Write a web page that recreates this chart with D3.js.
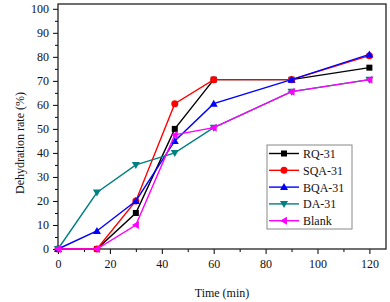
<!DOCTYPE html>
<html lang="en">
  <head>
    <meta charset="utf-8" />
    <title>Dehydration rate</title>
    <script src="https://d3js.org/d3.v7.min.js"></script>
    <style>
      body { margin: 0; background: #fff; }
      svg text { font-family: "Liberation Serif", "Times New Roman", serif; fill: #111; }
    </style>
  </head>
  <body>
    <div id="chart"></div>
    <script>
      const times = [0, 15, 30, 45, 60, 90, 120];
      const seriesNames = ["RQ-31", "SQA-31", "BQA-31", "DA-31", "Blank"];
      const rq31 = [0, 0, 15, 50, 70.5, 70.5, 75.5];
      const sqa31 = [0, 0, 20, 60.5, 70.5, 70.5, 80.5];
      const bqa31 = [0, 7.5, 20, 45, 60.5, 70.5, 81];
      const da31 = [0, 23.5, 35, 40, 50.5, 65.5, 70.5];
      const blank = [0, 0, 10, 47.5, 50.5, 65.5, 70.5];
      const xTicks = [0, 20, 40, 60, 80, 100, 120];
      const yTicks = [0, 10, 20, 30, 40, 50, 60, 70, 80, 90, 100];

      const colors = ["#000000", "#ff0000", "#0000ff", "#008080", "#ff00ff"];
      const shapes = ["square", "circle", "up", "down", "left"];
      const values = [rq31, sqa31, bqa31, da31, blank];

      const W = 390, H = 302;
      const margin = { top: 4, right: 4, bottom: 53, left: 58 };
      const width = W - margin.left - margin.right;
      const height = H - margin.top - margin.bottom;

      const svg = d3.select("#chart").append("svg")
        .attr("width", W).attr("height", H);
      const g = svg.append("g")
        .attr("transform", `translate(${margin.left},${margin.top})`);

      const x = d3.scaleLinear().domain([0, 126.4]).range([0, width]);
      const y = d3.scaleLinear().domain([0, 102]).range([height, 0]);

      // minor ticks
      g.append("g").attr("transform", `translate(0,${height})`)
        .call(d3.axisBottom(x).tickValues(d3.range(10, 130, 20)).tickSize(3).tickFormat(""))
        .call(a => a.select(".domain").remove());
      g.append("g")
        .call(d3.axisLeft(y).tickValues(d3.range(5, 100, 10)).tickSize(3).tickFormat(""))
        .call(a => a.select(".domain").remove());

      const xAxis = g.append("g").attr("transform", `translate(0,${height})`)
        .call(d3.axisBottom(x).tickValues(xTicks).tickSize(5).tickPadding(5));
      xAxis.select(".domain").remove();

      const yAxis = g.append("g")
        .call(d3.axisLeft(y).tickValues(yTicks).tickSize(5).tickPadding(4));
      yAxis.select(".domain").remove();

      g.selectAll("g").attr("font-family", null).attr("font-size", null);
      g.selectAll(".tick text").style("font-size", "12px");
      g.selectAll(".tick line").attr("stroke", "#000").attr("stroke-width", 1);

      // frame
      g.append("rect").attr("width", width).attr("height", height)
        .attr("fill", "none").attr("stroke", "#222").attr("stroke-width", 1.3);

      function marker(sel, shape, color, size) {
        const s = size;
        if (shape === "square") {
          sel.append("rect").attr("x", -s / 2).attr("y", -s / 2)
            .attr("width", s).attr("height", s).attr("fill", color);
        } else if (shape === "circle") {
          sel.append("circle").attr("r", s / 2 + 0.5).attr("fill", color);
        } else {
          const r = s / 2 + 1;
          let pts;
          if (shape === "up") pts = [[0, -r], [r, r * 0.75], [-r, r * 0.75]];
          else if (shape === "down") pts = [[0, r], [r, -r * 0.75], [-r, -r * 0.75]];
          else pts = [[-r, 0], [r * 0.75, -r], [r * 0.75, r]];
          sel.append("path").attr("d", "M" + pts.join("L") + "Z").attr("fill", color);
        }
      }

      const line = d3.line().x((d, i) => x(times[i])).y(d => y(d));

      values.forEach((vals, k) => {
        g.append("path").datum(vals)
          .attr("fill", "none").attr("stroke", colors[k]).attr("stroke-width", 1.4)
          .attr("d", line);
        vals.forEach((v, i) => {
          const m = g.append("g").attr("transform", `translate(${x(times[i])},${y(v)})`);
          marker(m, shapes[k], colors[k], 6);
        });
      });

      // legend
      const legend = svg.append("g").attr("transform", "translate(267,145)");
      legend.append("rect").attr("width", 85).attr("height", 84)
        .attr("fill", "#fff").attr("stroke", "#888").attr("stroke-width", 1);
      seriesNames.forEach((name, k) => {
        const yy = 8.5 + k * 16.8;
        const row = legend.append("g").attr("transform", `translate(0,${yy})`);
        row.append("line").attr("x1", 2).attr("x2", 32).attr("stroke", colors[k]).attr("stroke-width", 1.4);
        marker(row.append("g").attr("transform", "translate(17,0)"), shapes[k], colors[k], 6);
        row.append("text").attr("x", 36).attr("y", 4.5).style("font-size", "12px").text(name);
      });

      // axis titles
      svg.append("text").attr("x", margin.left + width / 2).attr("y", 297)
        .attr("text-anchor", "middle").style("font-size", "12px").text("Time (min)");
      svg.append("text")
        .attr("transform", `translate(24,143) rotate(-90)`)
        .attr("text-anchor", "middle").style("font-size", "12px").text("Dehydration rate (%)");
    </script>
  </body>
</html>
